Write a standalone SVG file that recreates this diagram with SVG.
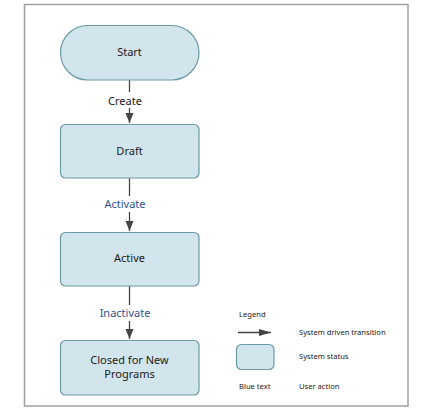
<svg xmlns="http://www.w3.org/2000/svg" width="432" height="413" viewBox="0 0 432 413">
<defs>
<style>
.node{fill:#d3e5ec;stroke:#6a9aa6;stroke-width:1.2}
.t{font-family:"Noto Sans","Open Sans",sans-serif;font-size:11px;fill:#1a1a1a;text-anchor:middle}
.b{fill:#2e5392}
.lg{font-family:"Noto Sans","Open Sans",sans-serif;font-size:7.6px;fill:#1a1a1a}
.edge{stroke:#444;stroke-width:1.3;fill:none}
</style>
<marker id="ah" markerWidth="10" markerHeight="10" viewBox="0 0 10 10" refX="10" refY="5" orient="auto" markerUnits="userSpaceOnUse">
<path d="M0,1 L10,5 L0,9 Z" fill="#444"/>
</marker>
<marker id="ahl" markerWidth="12" markerHeight="8" viewBox="0 0 12 8" refX="12" refY="4" orient="auto" markerUnits="userSpaceOnUse">
<path d="M0,0.5 L12,4 L0,7.5 Z" fill="#444"/>
</marker>
</defs>
<rect x="0" y="0" width="432" height="413" fill="#fff"/>
<rect x="24.5" y="4.5" width="383.5" height="401.5" fill="#fff" stroke="#a0a0a0" stroke-width="1.5"/>
<g id="connectors">
<line class="edge" x1="129.5" y1="80" x2="129.5" y2="123" marker-end="url(#ah)"/>
<line class="edge" x1="129.5" y1="178" x2="129.5" y2="231" marker-end="url(#ah)"/>
<line class="edge" x1="129.5" y1="286" x2="129.5" y2="339" marker-end="url(#ah)"/>
<rect x="100" y="92" width="60" height="16" fill="#fff"/>
<rect x="96" y="196" width="68" height="16" fill="#fff"/>
<rect x="92" y="305" width="76" height="16" fill="#fff"/>
<text class="t" x="125" y="105">Create</text>
<text class="t b" x="125" y="208">Activate</text>
<text class="t b" x="125" y="317">Inactivate</text>
</g>
<g id="start">
<rect class="node" x="60.5" y="25.5" width="138.5" height="54.5" rx="27.25"/>
<text class="t" x="129.5" y="56">Start</text>
</g>
<g id="draft">
<rect class="node" x="60.5" y="124.5" width="138.5" height="53.5" rx="5"/>
<text class="t" x="129.5" y="155">Draft</text>
</g>
<g id="active">
<rect class="node" x="60.5" y="232.5" width="138.5" height="53.5" rx="5"/>
<text class="t" x="129.5" y="262">Active</text>
</g>
<g id="closed">
<rect class="node" x="60.5" y="340.5" width="138.5" height="54.5" rx="5"/>
<text class="t" x="129.5" y="364">Closed for New</text>
<text class="t" x="129.5" y="378">Programs</text>
</g>
<g id="legend">
<text class="lg" x="239" y="317">Legend</text>
<line class="edge" x1="238" y1="332.5" x2="271" y2="332.5" marker-end="url(#ahl)"/>
<text class="lg" x="299" y="335">System driven transition</text>
<rect class="node" x="236.5" y="344.5" width="37.5" height="25" rx="5"/>
<text class="lg" x="299" y="358.5">System status</text>
<text class="lg b" x="239" y="388.5">Blue text</text>
<text class="lg" x="299" y="388.5">User action</text>
</g>
</svg>
